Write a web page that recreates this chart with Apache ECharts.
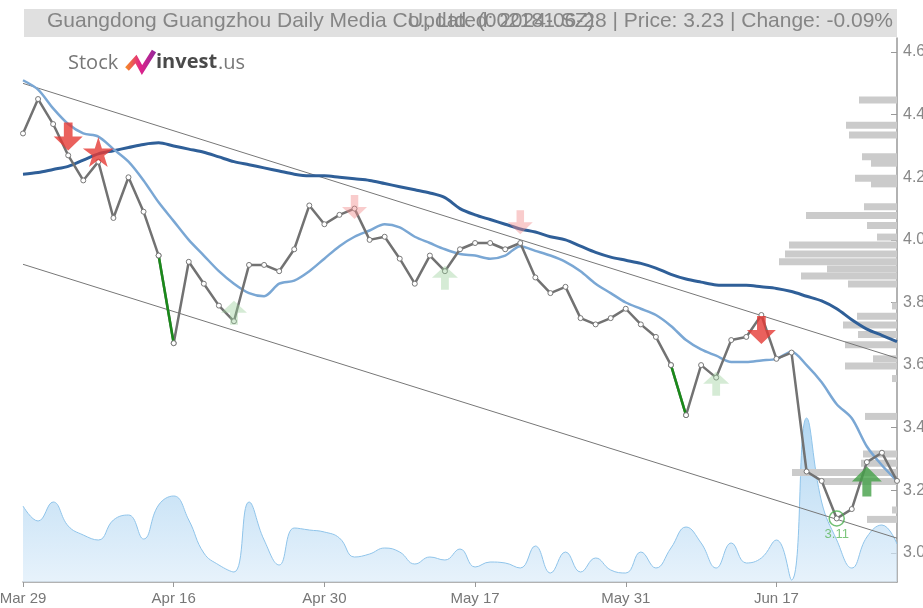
<!DOCTYPE html>
<html>
<head>
<meta charset="utf-8">
<script src="https://cdn.jsdelivr.net/npm/echarts@6/dist/echarts.min.js"></script>
<style>
  html, body { margin: 0; padding: 0; background: #fff; }
  #chart { width: 923px; height: 608px; }
</style>
</head>
<body>
<div id="chart"></div>
<script>
// trading days shown on the category axis
const dates = ['Mar 29','Apr 1','Apr 2','Apr 3','Apr 8','Apr 9','Apr 10','Apr 11','Apr 12','Apr 15',
  'Apr 16','Apr 17','Apr 18','Apr 19','Apr 22','Apr 23','Apr 24','Apr 25','Apr 26','Apr 29',
  'Apr 30','May 6','May 7','May 8','May 9','May 10','May 13','May 14','May 15','May 16',
  'May 17','May 20','May 21','May 22','May 23','May 24','May 27','May 28','May 29','May 30',
  'May 31','Jun 3','Jun 4','Jun 5','Jun 6','Jun 7','Jun 11','Jun 12','Jun 13','Jun 14',
  'Jun 17','Jun 18','Jun 19','Jun 20','Jun 21','Jun 24','Jun 25','Jun 26','Jun 27'];

// closing price
const price = [4.34,4.45,4.37,4.27,4.19,4.25,4.07,4.20,4.09,3.95,
  3.67,3.93,3.86,3.79,3.74,3.92,3.92,3.90,3.97,4.11,
  4.05,4.08,4.10,4.00,4.01,3.94,3.86,3.95,3.90,3.97,
  3.99,3.99,3.97,3.99,3.88,3.83,3.85,3.75,3.73,3.75,
  3.78,3.73,3.69,3.60,3.44,3.60,3.56,3.68,3.69,3.76,
  3.62,3.64,3.26,3.23,3.11,3.14,3.29,3.32,3.23];

// short moving average (light blue)
const maShort = [4.51,4.48,4.42,4.37,4.34,4.33,4.29,4.25,4.19,4.12,
  4.06,4.00,3.95,3.90,3.86,3.83,3.82,3.86,3.87,3.90,
  3.94,3.98,4.01,4.03,4.05,4.04,4.01,3.99,3.97,3.955,
  3.95,3.94,3.95,3.98,3.965,3.95,3.93,3.90,3.86,3.83,
  3.80,3.78,3.76,3.725,3.68,3.65,3.63,3.61,3.61,3.615,
  3.62,3.643,3.60,3.545,3.475,3.43,3.34,3.28,3.23];

// long moving average (dark blue)
const maLong = [4.21,4.215,4.225,4.235,4.255,4.275,4.285,4.295,4.305,4.31,
  4.30,4.29,4.28,4.265,4.25,4.24,4.23,4.22,4.21,4.205,
  4.205,4.20,4.195,4.19,4.18,4.17,4.16,4.15,4.135,4.10,
  4.08,4.065,4.05,4.035,4.025,4.01,4.00,3.98,3.96,3.945,
  3.935,3.925,3.91,3.89,3.875,3.865,3.856,3.855,3.855,3.85,
  3.845,3.835,3.82,3.805,3.78,3.745,3.715,3.695,3.675];

// daily volume (relative units)
const volume = [76,61,80,56,47,42,62,67,43,77,
  86,62,29,17,10,80,42,17,54,52,
  50,44,25,28,34,30,18,25,22,33,
  15,20,19,14,36,9,30,10,24,12,
  9,30,14,34,55,39,14,39,19,24,
  42,2,164,80,42,14,45,57,38];

// volume-by-price profile (price level, relative volume)
const profilePrice = [4.447,4.366,4.335,4.266,4.245,4.197,4.179,4.106,4.078,4.046,4.009,
  3.984,3.955,3.930,3.907,3.885,3.859,3.789,3.756,3.728,3.698,3.665,3.620,3.597,3.557,
  3.436,3.316,3.286,3.257,3.228,3.137,3.107];
const profileVolume = [38,51,48,35,26,42,26,33,91,30,20,
  108,112,118,70,96,49,5,40,54,39,52,24,52,5,
  32,34,36,105,74,5,30];

// trend channel end values (first day, last day)
const upperTrend = [4.50, 3.622];
const lowerTrend = [3.922, 3.047];

// signals [date, price]
const strongSell = [['Apr 3', 4.33], ['Jun 14', 3.712]];
const starSignal = [['Apr 9', 4.281]];
const weakSell = [['May 7', 4.105], ['May 22', 4.056]];
const weakBuy = [['Apr 22', 3.767], ['May 15', 3.879], ['Jun 11', 3.54]];
const strongBuy = [['Jun 25', 3.228]];
const lowPoint = [['Jun 21', 3.11]];
const greenDrops = [[9, 10], [43, 44]];

const chart = echarts.init(document.getElementById('chart'));

const downArrow = 'path://M35,0 L65,0 L65,50 L100,50 L50,100 L0,50 L35,50 Z';
const upArrow = 'path://M50,0 L100,50 L65,50 L65,100 L35,100 L35,50 L0,50 Z';
const star = 'path://M50,0 L61,35 L98,35 L68,57 L79,91 L50,70 L21,91 L32,57 L2,35 L39,35 Z';

const last = dates.length - 1;

const pointStyle = { color: '#fff', borderColor: '#777', borderWidth: 1 };

const greenSeries = greenDrops.map(([a, b]) => ({
  type: 'line',
  z: 5,
  data: [[dates[a], price[a]], [dates[b], price[b]]],
  symbol: 'circle',
  symbolSize: 5,
  itemStyle: pointStyle,
  lineStyle: { color: '#1a8a1a', width: 2.5 },
  silent: true
}));

const option = {
  animation: false,
  grid: { left: 23, right: 26, top: 38, bottom: 26, outerBoundsMode: 'none', containLabel: false },
  graphic: [
    { type: 'rect', left: 24, top: 9, shape: { width: 873, height: 28 }, style: { fill: '#e0e0e0' }, z: 0 },
    { type: 'text', left: 47, top: 11, style: { text: 'Guangdong Guangzhou Daily Media Co., Ltd. (002181.SZ)', font: '21px "Liberation Sans", Arial, sans-serif', fill: '#858585' }, z: 1 },
    { type: 'text', right: 30, top: 11, style: { text: 'Updated: 2024-06-28 | Price: 3.23 | Change: -0.09%', font: '21px "Liberation Sans", Arial, sans-serif', fill: '#858585' }, z: 1 },
    { type: 'text', left: 68, top: 53, style: { text: 'Stock', font: '20px "Open Sans", sans-serif', fill: '#777' }, z: 1 },
    {
      type: 'polyline', z: 1,
      shape: { points: [[127, 69], [136, 59], [142, 70], [154, 51]] },
      style: {
        fill: null, lineWidth: 5, lineJoin: 'miter',
        stroke: new echarts.graphic.LinearGradient(0, 0, 1, 0, [
          { offset: 0, color: '#f7941d' },
          { offset: 0.5, color: '#e0218a' },
          { offset: 1, color: '#8e2a9c' }
        ])
      }
    },
    { type: 'text', left: 156, top: 52, style: { text: 'invest', font: 'bold 20px "Open Sans", sans-serif', fill: '#4a4a4a' }, z: 1 },
    { type: 'text', left: 218, top: 53, style: { text: '.us', font: '20px "Open Sans", sans-serif', fill: '#777' }, z: 1 }
  ],
  xAxis: [
    {
      type: 'category',
      data: dates,
      boundaryGap: false,
      axisLine: { lineStyle: { color: '#999', width: 1.5 } },
      axisTick: { interval: 9, length: 5, lineStyle: { color: '#999' } },
      axisLabel: { interval: 9, color: '#777', fontSize: 15, margin: 9, fontFamily: 'Liberation Sans' },
      splitLine: { show: false }
    },
    { type: 'value', inverse: true, min: 0, max: 874, show: false }
  ],
  yAxis: [
    {
      type: 'value',
      position: 'right',
      min: 2.907,
      max: 4.645,
      splitNumber: 8,
      axisLine: { show: true, lineStyle: { color: '#999', width: 1.5 } },
      axisTick: { show: true, inside: true, length: 6, lineStyle: { color: '#999' } },
      axisLabel: {
        color: '#888', fontSize: 16, margin: 6, fontFamily: 'Liberation Sans',
        showMinLabel: false, showMaxLabel: false,
        formatter: v => v.toFixed(1)
      },
      splitLine: { show: false }
    },
    { type: 'value', min: 0, max: 544, show: false }
  ],
  series: [
    {
      name: 'Volume',
      type: 'line',
      xAxisIndex: 0,
      yAxisIndex: 1,
      z: 1,
      data: volume,
      smooth: 0.45,
      symbol: 'none',
      lineStyle: { color: '#8fc4ea', width: 1 },
      areaStyle: {
        color: new echarts.graphic.LinearGradient(0, 0, 0, 1, [
          { offset: 0, color: '#92c6ec' },
          { offset: 1, color: '#dcecf9' }
        ])
      },
      silent: true
    },
    {
      name: 'Profile',
      type: 'custom',
      xAxisIndex: 1,
      yAxisIndex: 0,
      z: 2,
      data: profilePrice.map((p, i) => [profileVolume[i], p]),
      renderItem: (params, api) => {
        const end = api.coord([api.value(0), api.value(1)]);
        const start = api.coord([0, api.value(1)]);
        return {
          type: 'rect',
          shape: { x: Math.min(start[0], end[0]), y: end[1] - 3.5, width: Math.abs(start[0] - end[0]), height: 7 },
          style: { fill: '#cbcbcb' }
        };
      },
      silent: true
    },
    {
      name: 'Upper',
      type: 'line',
      z: 3,
      data: [[dates[0], upperTrend[0]], [dates[last], upperTrend[1]]],
      symbol: 'none',
      lineStyle: { color: '#777', width: 1 },
      silent: true
    },
    {
      name: 'Lower',
      type: 'line',
      z: 3,
      data: [[dates[0], lowerTrend[0]], [dates[last], lowerTrend[1]]],
      symbol: 'none',
      lineStyle: { color: '#777', width: 1 },
      silent: true
    },
    {
      name: 'MA long',
      type: 'line',
      z: 3,
      data: maLong,
      smooth: 0.3,
      symbol: 'none',
      lineStyle: { color: '#2f5f98', width: 3 }
    },
    {
      name: 'MA short',
      type: 'line',
      z: 3,
      data: maShort,
      smooth: 0.3,
      symbol: 'none',
      lineStyle: { color: '#7aa7d4', width: 2.5 }
    },
    {
      name: 'Price',
      type: 'line',
      z: 4,
      data: price,
      symbol: 'circle',
      symbolSize: 5,
      itemStyle: pointStyle,
      lineStyle: { color: '#727272', width: 2.5 }
    },
    ...greenSeries,
    {
      type: 'scatter', z: 6, data: weakSell, symbol: downArrow, symbolSize: [25, 24],
      itemStyle: { color: 'rgba(242,140,140,0.55)' }, silent: true
    },
    {
      type: 'scatter', z: 6, data: weakBuy, symbol: upArrow, symbolSize: [26, 24],
      itemStyle: { color: 'rgba(150,205,150,0.5)' }, silent: true
    },
    {
      type: 'scatter', z: 6, data: strongSell, symbol: downArrow, symbolSize: [29, 28],
      itemStyle: { color: '#e53935' }, silent: true
    },
    {
      type: 'scatter', z: 6, data: starSignal, symbol: star, symbolSize: [31, 30],
      itemStyle: { color: '#e53935' }, silent: true
    },
    {
      type: 'scatter', z: 6, data: strongBuy, symbol: upArrow, symbolSize: [30, 30],
      itemStyle: { color: '#43a047' }, silent: true
    },
    {
      type: 'scatter', z: 6, data: lowPoint, symbol: 'circle', symbolSize: 15,
      itemStyle: { color: 'rgba(0,0,0,0)', borderColor: '#4caf50', borderWidth: 1.5 },
      label: {
        show: true, position: 'bottom', distance: 1,
        formatter: p => p.value[1].toFixed(2),
        color: '#5cb85c', fontSize: 13, fontFamily: 'Liberation Sans'
      },
      silent: true
    }
  ]
};

chart.setOption(option);
</script>
</body>
</html>
